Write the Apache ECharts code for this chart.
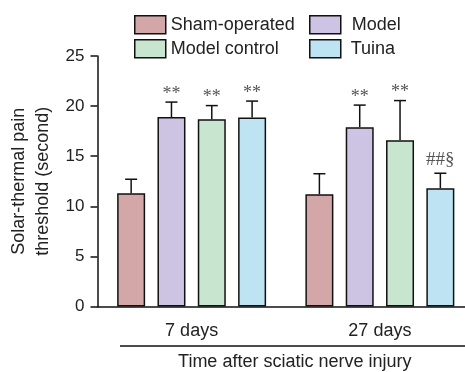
<!DOCTYPE html>
<html>
<head>
<meta charset="utf-8">
<script src="https://cdn.jsdelivr.net/npm/echarts@6/dist/echarts.min.js"></script>
<style>html,body{margin:0;padding:0;background:#fff;}#c{width:465px;height:372px;}</style>
</head>
<body>
<div id="c"></div>
<script>
const categories = ['7 days', '27 days'];
const seriesNames = ['Sham-operated', 'Model', 'Model control', 'Tuina'];
const shamMean = [11.3, 11.2];
const shamSD = [1.4, 2.05];
const modelMean = [18.9, 17.9];
const modelSD = [1.5, 2.2];
const controlMean = [18.7, 16.6];
const controlSD = [1.35, 3.95];
const tuinaMean = [18.85, 11.8];
const tuinaSD = [1.65, 1.5];
const shamMarks = ['', ''];
const modelMarks = ['**', '**'];
const controlMarks = ['**', '**'];
const tuinaMarks = ['**', '##§'];
const yTicks = [0, 5, 10, 15, 20, 25];

const means = [shamMean, modelMean, controlMean, tuinaMean];
const sds = [shamSD, modelSD, controlSD, tuinaSD];
const marks = [shamMarks, modelMarks, controlMarks, tuinaMarks];
const colors = ['#d3a6a8', '#cdc3e2', '#c8e5d0', '#bee4f3'];

const BAR_W = 28, BAR_GAP = 0.44;
const FONT = '"Liberation Sans", Arial, Helvetica, sans-serif';
const SERIF = '"Liberation Serif", "Times New Roman", serif';

function barOffset(i) {
  const n = 4;
  const total = n * BAR_W + (n - 1) * BAR_W * BAR_GAP;
  return -total / 2 + i * BAR_W * (1 + BAR_GAP) + BAR_W / 2;
}

const series = [];
seriesNames.forEach((name, i) => {
  series.push({
    name: name,
    type: 'bar',
    barWidth: BAR_W,
    barGap: (BAR_GAP * 100) + '%',
    data: means[i],
    itemStyle: { color: colors[i], borderColor: '#111', borderWidth: 1.5 },
    emphasis: { disabled: true },
    z: 2
  });
});
seriesNames.forEach((name, i) => {
  series.push({
    name: 'err' + i,
    type: 'custom',
    z: 3,
    data: categories.map((c, k) => [k, means[i][k], sds[i][k]]),
    renderItem: function (params, api) {
      const k = api.value(0), m = api.value(1), sd = api.value(2);
      const base = api.coord([k, m]);
      const top = api.coord([k, m + sd]);
      const cx = base[0] + barOffset(i);
      const label = marks[i][params.dataIndex];
      const children = [
        { type: 'line', shape: { x1: cx, y1: base[1], x2: cx, y2: top[1] }, style: { stroke: '#111', lineWidth: 1.5 } },
        { type: 'line', shape: { x1: cx - 6, y1: top[1], x2: cx + 6, y2: top[1] }, style: { stroke: '#111', lineWidth: 1.5 } }
      ];
      if (label) {
        const isStar = label.indexOf('*') >= 0;
        children.push({
          type: 'text',
          x: cx, y: top[1] - (isStar ? -1 : 4),
          style: {
            text: label, fill: '#555',
            font: (isStar ? '18px ' : '19px ') + SERIF,
            align: 'center', verticalAlign: 'bottom'
          }
        });
      }
      return { type: 'group', children: children };
    }
  });
});

function legendAt(name, left, top, pad) {
  return {
    data: [name], left: left, top: top, padding: 0,
    itemWidth: 31, itemHeight: 18, icon: 'rect',
    itemStyle: { borderColor: '#111', borderWidth: 1.5 },
    textStyle: { fontFamily: FONT, fontSize: 18, color: '#222', padding: [0, 0, 0, pad] },
    selectedMode: false
  };
}

const chart = echarts.init(document.getElementById('c'), null, { renderer: 'canvas' });
chart.setOption({
  animation: false,
  backgroundColor: '#fff',
  legend: [
    legendAt('Sham-operated', 134, 15, 0),
    legendAt('Model', 309, 15, 6),
    legendAt('Model control', 134, 39, 0),
    legendAt('Tuina', 309, 39, 5)
  ],
  grid: { left: 97.5, right: -9, top: 56, bottom: 65.5, containLabel: false, outerBoundsMode: 'none' },
  xAxis: {
    type: 'category',
    data: categories,
    axisLine: { lineStyle: { color: '#111', width: 1.5 } },
    axisTick: { alignWithLabel: true, length: 7, lineStyle: { color: '#111', width: 1.5 } },
    axisLabel: { fontFamily: FONT, fontSize: 18, color: '#222', margin: 16 },
    name: 'Time after sciatic nerve injury',
    nameLocation: 'middle',
    nameGap: 47,
    nameTextStyle: { fontFamily: FONT, fontSize: 18, color: '#222', padding: [0, 0, 0, 18] },
    splitLine: { show: false }
  },
  yAxis: {
    type: 'value',
    min: yTicks[0], max: yTicks[yTicks.length - 1], interval: yTicks[1] - yTicks[0],
    axisLine: { show: true, lineStyle: { color: '#111', width: 1.5 } },
    axisTick: { show: true, length: 7, lineStyle: { color: '#111', width: 1.5 } },
    axisLabel: { fontFamily: FONT, fontSize: 17, color: '#222', margin: 13 },
    splitLine: { show: false },
    name: 'Solar-thermal pain\nthreshold (second)',
    nameLocation: 'middle',
    nameGap: 42,
    nameTextStyle: { fontFamily: FONT, fontSize: 18, color: '#222', lineHeight: 24 }
  },
  graphic: [
    { type: 'line', shape: { x1: 120, y1: 346, x2: 465, y2: 346 }, style: { stroke: '#111', lineWidth: 1.5 } }
  ],
  series: series
});
</script>
</body>
</html>
